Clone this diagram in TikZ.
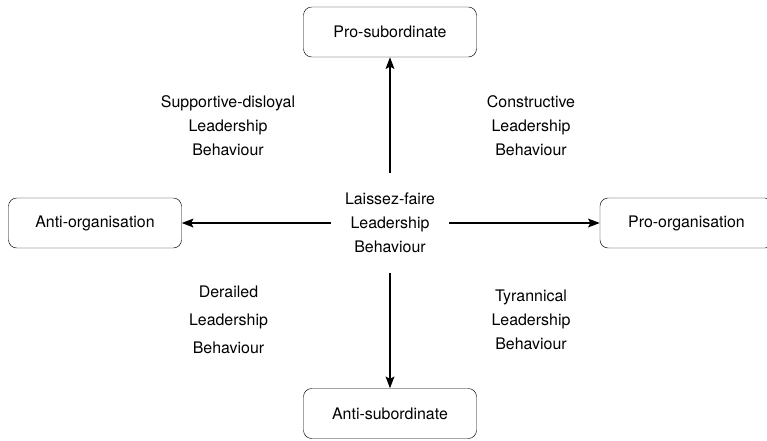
\documentclass[tikz,border=0pt]{standalone}
\usepackage{fontspec}
\setmainfont{TeX Gyre Heros}
\usetikzlibrary{arrows.meta}
\usetikzlibrary{positioning}

\begin{document}
\begin{tikzpicture}[x=0.03cm,y=-0.03cm,
  axisbox/.style={draw=black,thin,rounded corners=7pt,minimum width=5.19cm,minimum height=1.5cm,font=\fontsize{13.6}{20.4}\selectfont},
  lead/.style={align=center,font=\fontsize{13.6}{20.4}\selectfont},
  axisarrow/.style={black,line width=1.3pt,-{Stealth[length=10pt,width=7.5pt,inset=2pt]}}]
\useasboundingbox (0,0) rectangle (767,440);

\node[axisbox] (ps) at (390,32) {Pro-subordinate};
\node[axisbox] (as) at (390,413.5) {Anti-subordinate};
\node[axisbox] (ao) at (95,223) {Anti-organisation};
\node[axisbox] (po) at (686.5,223) {Pro-organisation};

\node[lead,minimum width=3.54cm,minimum height=2.97cm] (lf) at (390,223) {Laissez-faire\\Leadership\\Behaviour};

\node[lead] (sd) at (228,126) {Supportive-disloyal\\Leadership\\Behaviour};
\node[lead] (co) at (531,126) {Constructive\\Leadership\\Behaviour};
\node[lead,font=\fontsize{13.6}{23.8}\selectfont] (de) at (228.5,320) {Derailed\\Leadership\\Behaviour};
\node[lead] (ty) at (531,320) {Tyrannical\\Leadership\\Behaviour};

\draw[axisarrow] (lf.north) -- (ps.south);
\draw[axisarrow] (lf.south) -- (as.north);
\draw[axisarrow] (lf.west) -- (ao.east);
\draw[axisarrow] (lf.east) -- (po.west);

\end{tikzpicture}
\end{document}
